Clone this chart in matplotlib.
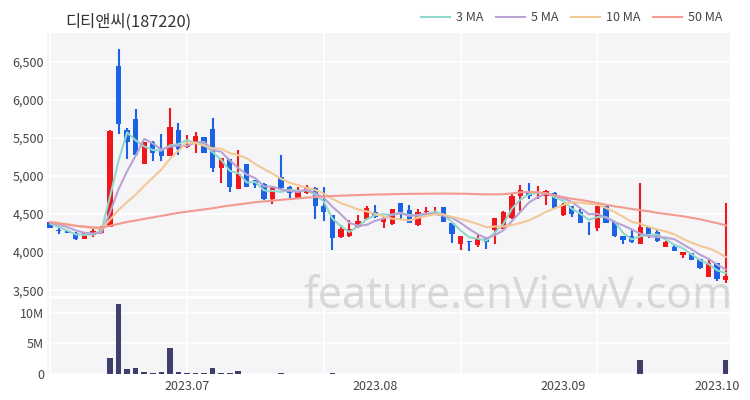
"""Candlestick chart with moving averages and volume, 디티앤씨(187220)."""
import matplotlib
matplotlib.use("Agg")
import matplotlib.pyplot as plt
import numpy as np
import pandas as pd
from matplotlib.ticker import FuncFormatter, FixedLocator

plt.rcParams["font.family"] = ["Noto Sans CJK KR", "DejaVu Sans"]

TITLE = "디티앤씨(187220)"

# OHLC, one entry per trading day (80 days)
OPEN = [4390, 4290, 4280, 4250, 4170, 4230, 4250, 4335, 6440, 5600,
        5750, 5150, 5440, 5370, 5260, 5600, 5380, 5420, 5510, 5620,
        5110, 5220, 4830, 5150, 4940, 4900, 4690, 4980, 4860, 4710,
        4780, 4840, 4610, 4490, 4200, 4210, 4330, 4430, 4530, 4400,
        4370, 4640, 4550, 4350, 4520, 4510, 4590, 4380, 4110, 4150,
        4090, 4190, 4290, 4300, 4450, 4730, 4790, 4760, 4740, 4780,
        4490, 4600, 4530, 4400, 4320, 4600, 4400, 4210, 4210, 4110,
        4330, 4260, 4070, 4070, 3960, 3990, 3910, 3670, 3850, 3630]
HIGH = [4400, 4320, 4290, 4260, 4255, 4300, 4340, 5600, 6670, 5630,
        5880, 5450, 5460, 5550, 5890, 5690, 5540, 5570, 5510, 5760,
        5240, 5220, 5340, 5150, 4950, 4910, 4860, 5270, 4870, 4850,
        4880, 4850, 4860, 4490, 4350, 4420, 4480, 4600, 4620, 4460,
        4570, 4650, 4620, 4570, 4590, 4590, 4590, 4380, 4210, 4150,
        4230, 4200, 4450, 4540, 4780, 4880, 4910, 4870, 4810, 4790,
        4640, 4610, 4570, 4400, 4610, 4610, 4400, 4210, 4300, 4910,
        4340, 4290, 4140, 4100, 4000, 3990, 3910, 3900, 3850, 4640]
LOW = [4310, 4240, 4245, 4160, 4165, 4195, 4240, 4330, 5550, 5220,
       5270, 5150, 5190, 5200, 5260, 5280, 5370, 5300, 5300, 5050,
       4910, 4790, 4830, 4860, 4840, 4680, 4630, 4830, 4700, 4710,
       4760, 4430, 4410, 4030, 4190, 4200, 4320, 4420, 4450, 4320,
       4360, 4440, 4380, 4340, 4490, 4490, 4400, 4120, 4030, 4010,
       4070, 4040, 4110, 4300, 4430, 4540, 4690, 4690, 4620, 4570,
       4470, 4460, 4380, 4220, 4280, 4380, 4200, 4110, 4120, 4110,
       4180, 4130, 4060, 4020, 3920, 3890, 3780, 3670, 3620, 3600]
CLOSE = [4320, 4270, 4255, 4170, 4250, 4270, 4325, 5590, 5680, 5440,
         5280, 5440, 5300, 5260, 5640, 5350, 5420, 5520, 5300, 5110,
         5230, 4860, 5020, 4860, 4880, 4690, 4840, 4840, 4770, 4800,
         4860, 4600, 4530, 4190, 4300, 4300, 4410, 4580, 4460, 4450,
         4560, 4520, 4380, 4530, 4540, 4530, 4400, 4240, 4210, 4130,
         4190, 4130, 4450, 4530, 4730, 4810, 4740, 4780, 4800, 4580,
         4630, 4500, 4380, 4390, 4610, 4380, 4210, 4160, 4130, 4330,
         4220, 4140, 4130, 4020, 4000, 3890, 3790, 3850, 3640, 3680]
# volume in millions of shares
VOLUME = [0.04, 0.03, 0.03, 0.04, 0.04, 0.03, 0.05, 2.58, 11.4, 0.80,
          0.97, 0.32, 0.25, 0.35, 4.30, 0.35, 0.25, 0.25, 0.20, 0.97,
          0.15, 0.20, 0.55, 0.06, 0.05, 0.05, 0.06, 0.27, 0.05, 0.04,
          0.05, 0.06, 0.05, 0.15, 0.05, 0.04, 0.05, 0.05, 0.04, 0.04,
          0.04, 0.05, 0.04, 0.05, 0.03, 0.03, 0.05, 0.06, 0.05, 0.04,
          0.05, 0.04, 0.06, 0.07, 0.06, 0.05, 0.05, 0.04, 0.05, 0.05,
          0.04, 0.04, 0.05, 0.04, 0.05, 0.04, 0.04, 0.03, 0.04, 2.40,
          0.06, 0.04, 0.03, 0.03, 0.03, 0.04, 0.05, 0.06, 0.07, 2.26]
# closes before the first shown day, estimated from where the MA lines start
PRE_CLOSES = [4420, 4410, 4400, 4415, 4405, 4400, 4410, 4395, 4400]
# 50 day MA (its window reaches far before the shown range)
MA50 = [4390, 4375, 4360, 4345, 4335, 4325, 4320, 4345, 4370, 4395,
        4415, 4435, 4455, 4475, 4495, 4515, 4530, 4545, 4560, 4575,
        4595, 4610, 4625, 4640, 4655, 4665, 4675, 4685, 4695, 4705,
        4715, 4722, 4730, 4735, 4740, 4745, 4748, 4752, 4755, 4757,
        4760, 4762, 4764, 4765, 4766, 4767, 4768, 4767, 4766, 4764,
        4760, 4758, 4757, 4760, 4770, 4785, 4790, 4785, 4770, 4745,
        4720, 4700, 4685, 4665, 4645, 4620, 4600, 4585, 4565, 4550,
        4535, 4515, 4500, 4485, 4470, 4450, 4430, 4405, 4380, 4350]
TICK_POS = [16, 38, 60, 78]
TICK_LABELS = ["2023.07", "2023.08", "2023.09", "2023.10"]

UP, DOWN = "#f0161c", "#1b62e4"
MA_COLORS = {"3 MA": "#8fd8cb", "5 MA": "#b9a2d4", "10 MA": "#f3c896", "50 MA": "#f39a90"}
BG = "#f5f5f7"
TXT = "#444444"

n = len(CLOSE)
x = np.arange(n)
o, h, l, c = map(np.array, (OPEN, HIGH, LOW, CLOSE))
full = pd.Series(PRE_CLOSES + CLOSE)
ma = {
    "3 MA": full.rolling(3).mean().to_numpy()[len(PRE_CLOSES):],
    "5 MA": full.rolling(5).mean().to_numpy()[len(PRE_CLOSES):],
    "10 MA": full.rolling(10).mean().to_numpy()[len(PRE_CLOSES):],
    "50 MA": np.array(MA50),
}

fig = plt.figure(figsize=(7.5, 4), dpi=100)
ax = fig.add_axes([0.0623, 0.259, 0.911, 0.658])
axv = fig.add_axes([0.0623, 0.064, 0.911, 0.188], sharex=ax)

for a in (ax, axv):
    a.set_facecolor(BG)
    for s in a.spines.values():
        s.set_visible(False)
    a.tick_params(length=0, colors=TXT, labelsize=9)
    a.set_axisbelow(True)
    a.grid(axis="y", color="white", linewidth=1.2)
    for gx in range(0, n, 16):
        a.axvline(gx, color="white", linewidth=1.2, zorder=0.5)

# candles
up = c >= o
colors = np.where(up, UP, DOWN)
ax.vlines(x, l, h, colors=colors, linewidth=1.5, zorder=2)
body_lo = np.minimum(o, c)
body_h = np.maximum(np.abs(c - o), 8)
ax.bar(x, body_h, bottom=body_lo, width=0.62, color=colors, zorder=3)

for name, vals in ma.items():
    ax.plot(x, vals, color=MA_COLORS[name], linewidth=1.5, label=name, zorder=4)

ax.set_ylim(3418, 6873)
ax.set_xlim(-0.4, n - 0.5)
ax.yaxis.set_major_locator(FixedLocator(np.arange(3500, 6501, 500)))
ax.yaxis.set_major_formatter(FuncFormatter(lambda v, p: f"{v:,.0f}"))
ax.tick_params(axis="y", pad=2)
plt.setp(ax.get_xticklabels(), visible=False)

leg = ax.legend(loc="lower right", bbox_to_anchor=(1.0, 1.005), ncol=4, frameon=False,
                fontsize=9, handlelength=2.3, handletextpad=0.5, columnspacing=1.0,
                borderaxespad=0.2)
for t in leg.get_texts():
    t.set_color(TXT)

fig.text(0.087, 0.944, TITLE, fontsize=11.8, color="#333333", ha="left", va="center")

# volume
axv.bar(x, np.array(VOLUME) * 1e6, width=0.65, color="#3f3f6c", zorder=3)
axv.set_ylim(0, 12.15e6)
axv.yaxis.set_major_locator(FixedLocator([0, 5e6, 10e6]))
axv.yaxis.set_major_formatter(FuncFormatter(lambda v, p: "0" if v == 0 else f"{v / 1e6:.0f}M"))
axv.set_xticks(TICK_POS)
axv.set_xticklabels(TICK_LABELS)
axv.tick_params(axis="x", pad=4)
axv.tick_params(axis="y", pad=2)

fig.text(0.977, 0.257, "feature.enViewV.com", fontsize=31, color="#c4c4c4", alpha=0.6,
         ha="right", va="center", family=["Noto Sans", "DejaVu Sans"], zorder=10)

fig.savefig("out.png", dpi=100, facecolor="white")
